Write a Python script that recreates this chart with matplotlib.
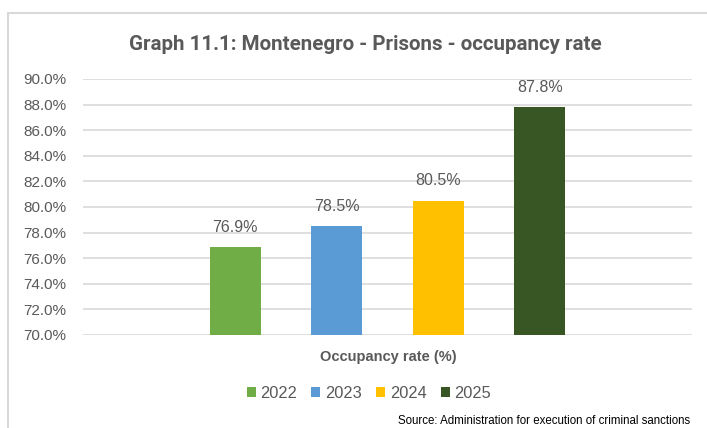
import matplotlib.pyplot as plt
from matplotlib.patches import Rectangle
from matplotlib.ticker import FuncFormatter

years = ['2022', '2023', '2024', '2025']
occupancy = [76.9, 78.5, 80.5, 87.8]
colors = ['#70AD47', '#5B9BD5', '#FFC000', '#375623']
yticks = [70, 72, 74, 76, 78, 80, 82, 84, 86, 88, 90]

W, H = 707, 428
fig = plt.figure(figsize=(W / 100, H / 100), dpi=100)
plt.rcParams['font.family'] = ['Liberation Sans', 'DejaVu Sans']

# outer chart border
fig.patches.append(Rectangle((8 / W, -0.1), 1.0, (H - 13.5) / H + 0.1,
                             transform=fig.transFigure, fill=False,
                             edgecolor='#D9D9D9', linewidth=1.5))

ax = fig.add_axes([83 / W, 1 - 335 / H, (692 - 83) / W, (335 - 79) / H])
for i, (yr, v, c) in enumerate(zip(years, occupancy, colors)):
    ax.bar(i, v - 70, bottom=70, width=0.5, color=c, label=yr, zorder=3)
    ax.text(i, v + 0.95, f'{v:.1f}%', ha='center', va='bottom',
            fontsize=11.5, color='#595959')

ax.set_xlim(-1.5, 4.5)
ax.set_ylim(70, 90)
ax.set_yticks(yticks)
ax.yaxis.set_major_formatter(FuncFormatter(lambda v, p: f'{v:.1f}%'))
ax.tick_params(axis='y', length=0, pad=12, labelsize=11, labelcolor='#595959')
ax.set_xticks([])
ax.grid(axis='y', color='#D9D9D9', linewidth=1.2, zorder=0)
for s in ax.spines.values():
    s.set_visible(False)

fig.text(365 / W, 1 - 44 / H, 'Graph 11.1: Montenegro - Prisons - occupancy rate',
         ha='center', va='center', fontsize=14.8, fontweight='bold',
         color='#595959', family=['Roboto', 'DejaVu Sans'])
fig.text(388 / W, 1 - 357 / H, 'Occupancy rate (%)', ha='center', va='center',
         fontsize=10.5, fontweight='bold', color='#595959')

fig.legend(loc='center', bbox_to_anchor=(369 / W, 1 - 393 / H), ncol=4,
           frameon=False, fontsize=11.8, labelcolor='#595959',
           handlelength=0.55, handleheight=0.55, handletextpad=0.3,
           columnspacing=0.85)

fig.text(690 / W, 1 - 421 / H, 'Source: Administration for execution of criminal sanctions',
         ha='right', va='center', fontsize=8.3, color='#000000')

fig.savefig('out.png', dpi=100)
